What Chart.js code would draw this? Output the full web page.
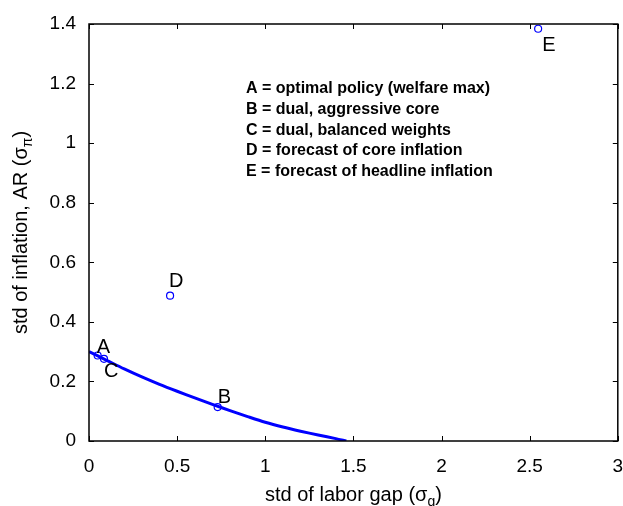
<!DOCTYPE html>
<html>
<head>
<meta charset="utf-8">
<script src="https://cdn.jsdelivr.net/npm/chart.js@4"></script>
<style>
  html, body { margin: 0; padding: 0; background: #fff; }
  #chart { display: block; }
</style>
</head>
<body>
<canvas id="chart" width="623" height="506"></canvas>
<script>
/* ===== DATA ===== */
const curveX = [0, 0.1, 0.2, 0.3, 0.4, 0.5, 0.6, 0.7, 0.8, 0.9, 1.0, 1.1, 1.2, 1.3, 1.4, 1.46];
const curveY = [0.300, 0.271, 0.242, 0.215, 0.190, 0.167, 0.145, 0.123, 0.102, 0.082, 0.063, 0.047, 0.033, 0.020, 0.008, 0];

const pointNames = ['A', 'B', 'C', 'D', 'E'];
const pointX = [0.049, 0.73, 0.085, 0.46, 2.548];
const pointY = [0.287, 0.114, 0.276, 0.488, 1.384];

const noteLines = [
  'A = optimal policy (welfare max)',
  'B = dual, aggressive core',
  'C = dual, balanced weights',
  'D = forecast of core inflation',
  'E = forecast of headline inflation'
];

const xTicks = [0, 0.5, 1, 1.5, 2, 2.5, 3];
const xTickLabels = ['0', '0.5', '1', '1.5', '2', '2.5', '3'];
const yTicks = [0, 0.2, 0.4, 0.6, 0.8, 1, 1.2, 1.4];
const yTickLabels = ['0', '0.2', '0.4', '0.6', '0.8', '1', '1.2', '1.4'];

/* ===== STYLE ===== */
const BLUE = '#0000ff';
const FONT = "'Liberation Sans', Arial, Helvetica, sans-serif";
// label offsets from marker centre (px): [dx, dy to baseline]
const labelOffset = { A: [-1, -3], B: [0, -4], C: [0, 18], D: [-1, -9], E: [4, 22] };

/* ===== PLUGIN: box, inward ticks, titles, labels ===== */
const decorations = {
  id: 'decorations',
  afterDraw(chart) {
    const { ctx, chartArea: a, scales: { x, y } } = chart;
    ctx.save();

    // frame and inward ticks
    ctx.strokeStyle = '#000';
    ctx.lineWidth = 1.5;
    ctx.strokeRect(a.left, a.top, a.right - a.left, a.bottom - a.top);
    ctx.lineWidth = 1;
    ctx.beginPath();
    const tl = 5;
    xTicks.forEach(v => {
      const px = Math.round(x.getPixelForValue(v)) + 0.5;
      ctx.moveTo(px, a.bottom); ctx.lineTo(px, a.bottom - tl);
      ctx.moveTo(px, a.top); ctx.lineTo(px, a.top + tl);
    });
    yTicks.forEach(v => {
      const py = Math.round(y.getPixelForValue(v)) + 0.5;
      ctx.moveTo(a.left, py); ctx.lineTo(a.left + tl, py);
      ctx.moveTo(a.right, py); ctx.lineTo(a.right - tl, py);
    });
    ctx.stroke();

    // point letters
    ctx.fillStyle = '#000';
    ctx.font = '20px ' + FONT;
    ctx.textBaseline = 'alphabetic';
    ctx.textAlign = 'left';
    pointNames.forEach((n, i) => {
      const px = x.getPixelForValue(pointX[i]);
      const py = y.getPixelForValue(pointY[i]);
      const o = labelOffset[n];
      ctx.fillText(n, px + o[0], py + o[1]);
    });

    // note block
    ctx.font = 'bold 16px ' + FONT;
    noteLines.forEach((t, i) => ctx.fillText(t, 246, 93 + i * 20.8));

    // axis titles with subscripts
    const drawSub = (main, sub, tail, cx, base) => {
      ctx.font = '20px ' + FONT;
      const w1 = ctx.measureText(main).width;
      const w3 = ctx.measureText(tail).width;
      ctx.font = '14px ' + FONT;
      const w2 = ctx.measureText(sub).width;
      let sx = cx - (w1 + w2 + w3) / 2;
      ctx.font = '20px ' + FONT;
      ctx.fillText(main, sx, base);
      ctx.font = '14px ' + FONT;
      ctx.fillText(sub, sx + w1, base + 5);
      ctx.font = '20px ' + FONT;
      ctx.fillText(tail, sx + w1 + w2, base);
    };
    drawSub('std of labor gap (\u03c3', 'g', ')', (a.left + a.right) / 2, 501);

    ctx.translate(27, (a.top + a.bottom) / 2);
    ctx.rotate(-Math.PI / 2);
    drawSub('std of inflation, AR (\u03c3', '\u03c0', ')', 0, 0);

    ctx.restore();
  }
};

/* ===== CHART ===== */
new Chart(document.getElementById('chart'), {
  type: 'scatter',
  data: {
    datasets: [{
      label: 'frontier',
      data: curveX.map((v, i) => ({ x: v, y: curveY[i] })),
      showLine: true,
      borderColor: BLUE,
      borderWidth: 3,
      pointRadius: 0,
      tension: 0.3,
      order: 2
    }, {
      label: 'rules',
      data: pointX.map((v, i) => ({ x: v, y: pointY[i] })),
      showLine: false,
      borderColor: BLUE,
      backgroundColor: 'rgba(0,0,0,0)',
      borderWidth: 1.2,
      pointRadius: 3.5,
      order: 1
    }]
  },
  options: {
    responsive: false,
    animation: false,
    devicePixelRatio: 1,
    layout: { padding: { top: 24, right: 4, left: 0, bottom: 0 } },
    plugins: { legend: { display: false }, tooltip: { enabled: false } },
    scales: {
      x: {
        type: 'linear', min: 0, max: 3,
        afterBuildTicks: s => { s.ticks = xTicks.map(v => ({ value: v })); },
        afterFit: s => { s.height = 65; s.paddingLeft = 0; s.paddingRight = 0; },
        grid: { display: false, drawTicks: false },
        border: { display: false },
        ticks: {
          padding: 14, color: '#000',
          font: { family: FONT, size: 19 },
          callback: v => xTickLabels[xTicks.indexOf(v)]
        }
      },
      y: {
        type: 'linear', min: 0, max: 1.4,
        afterBuildTicks: s => { s.ticks = yTicks.map(v => ({ value: v })); },
        afterFit: s => { s.width = 89; s.paddingTop = 0; s.paddingBottom = 0; },
        grid: { display: false, drawTicks: false },
        border: { display: false },
        ticks: {
          padding: 13, color: '#000',
          font: { family: FONT, size: 19 },
          callback: v => yTickLabels[yTicks.indexOf(v)]
        }
      }
    }
  },
  plugins: [decorations]
});
</script>
</body>
</html>
